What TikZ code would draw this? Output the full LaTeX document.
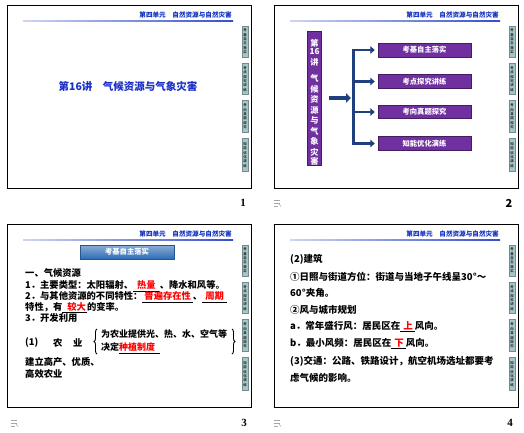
\documentclass[tikz,border=0pt]{standalone}
\usepackage{fontspec}
\usetikzlibrary{arrows.meta,decorations.pathreplacing,calc}
\setmainfont{Noto Sans CJK SC}
\newfontfamily\numfont{Liberation Serif}
\newcommand{\fsz}[1]{\fontsize{#1}{#1}\selectfont}
\newcommand{\blank}[3]{\underline{\hspace{#1}\textcolor{red}{#2}\hspace{#3}}}
\definecolor{hdrblue}{HTML}{1030C0}
\definecolor{tabc}{HTML}{A4C6C8}
\definecolor{purp}{HTML}{7030A0}
\definecolor{navy}{HTML}{1F3F7F}
\definecolor{boxblue}{HTML}{2D6CB5}
\definecolor{titleblue}{HTML}{1A2FC8}
\tikzset{
  frame/.style={draw=black, line width=0.9pt},
  hdr/.style={text=hdrblue, font=\fsz{6.6}\bfseries, inner sep=0},
  tabbox/.style={fill=tabc, draw=tabc!70!black, line width=0.2pt, minimum width=6.5, inner sep=0,
     align=center, font=\fontsize{3.4}{4.4}\selectfont\bfseries, text=black!80},
  purpbox/.style={fill=purp, draw=purp!60!black, line width=0.4pt, inner sep=0, text=white},
  body/.style={anchor=west, inner sep=0, font=\fsz{9.3}\bfseries},
  bodyb/.style={anchor=west, inner sep=0, font=\fsz{9.5}\bfseries},
  pagenum/.style={font=\numfont\fsz{11}\bfseries, inner sep=0},
  icon/.style={draw=black!35, line width=0.5pt},
  brc/.style={decorate, decoration={brace, amplitude=3pt}, line width=0.9pt},
}
\newcommand{\chrome}[2]{%
  \begin{scope}[shift={(#1,#2)}]
    \draw[frame] (7,5) rectangle (251,188);
    \shade[left color=hdrblue!20, right color=hdrblue!85] (23,20.2) rectangle (233,21.8);
    \node[hdr, anchor=east] at (232,14.5) {第四单元　自然资源与自然灾害};
    \node[tabbox, minimum height=31] at (245,41.5) {考\\基\\自\\主\\落\\实};
    \node[tabbox, minimum height=31] at (245,79) {考\\点\\探\\究\\讲\\练};
    \node[tabbox, minimum height=32] at (245,116.5) {考\\向\\真\\题\\探\\究};
    \node[tabbox, minimum height=33] at (245,155) {知\\能\\优\\化\\演\\练};
  \end{scope}}
\newcommand{\noteicon}[2]{%
  \begin{scope}[shift={(#1,#2)}]
    \draw[icon] (-3,-3) -- (3,-3) (-3,0) -- (3,0) (-3,3) -- (1,3);
    \draw[icon] (2,1) -- (4,3.5);
  \end{scope}}
\begin{document}
\begin{tikzpicture}[x=1pt,y=-1pt]
\useasboundingbox (0,0) rectangle (524,433);
\fill[white] (0,0) rectangle (524,433);

% ---------- slide chrome ----------
\chrome{0}{0}
\chrome{267}{0}
\chrome{0}{219}
\chrome{267}{219}

% ---------- slide 1 ----------
\node[font=\fsz{10.5}\bfseries, text=titleblue, inner sep=0] (title) at (128,86) {第16讲　气候资源与气象灾害};
\node[pagenum] (p1) at (243,203) {1};

% ---------- slide 2 ----------
\node[purpbox, minimum width=14, minimum height=134] (lb) at (314.5,98) {};
\foreach \c/\yy in {第/43, 16/51.5, 讲/62, 气/78, 候/89, 资/99.5, 源/110, 与/120.5, 气/131, 象/141.5, 灾/152, 害/161.5}{
  \node[text=white, font=\fsz{8.2}\bfseries, inner sep=0] at (314.5,\yy) {\c};
}
\node[purpbox, minimum width=93, minimum height=14, font=\fsz{7.3}\bfseries] (b1) at (424.5,50) {考基自主落实};
\node[purpbox, minimum width=93, minimum height=14, font=\fsz{7.3}\bfseries] (b2) at (424.5,81.5) {考点探究讲练};
\node[purpbox, minimum width=93, minimum height=13, font=\fsz{7.3}\bfseries] (b3) at (424.5,112) {考向真题探究};
\node[purpbox, minimum width=93, minimum height=14, font=\fsz{7.3}\bfseries] (b4) at (424.5,143.5) {知能优化演练};
\coordinate (tipx) at (351,0);
\coordinate (barx) at (353.5,0);
\draw[navy, line width=3.6pt, -{Triangle[length=5pt,width=9.5pt]}] ([xshift=7pt]lb.east) -- (lb.east -| tipx);
\draw[navy, line width=2.4pt] ([yshift=1pt]b1.west -| barx) -- ([yshift=-1pt]b4.west -| barx);
\foreach \i in {1,...,4}{
  \draw[navy, line width=2.6pt, -{Triangle[length=4.5pt,width=7.5pt]}] (b\i.west -| barx) -- ([xshift=-3pt]b\i.west);
}
\node[pagenum, font=\fsz{11}\bfseries] (p2) at (509,203) {2};
\noteicon{277}{203}

% ---------- slide 3 ----------
\node[inner sep=0, minimum width=94, minimum height=14, top color=boxblue!55!white, bottom color=boxblue, draw=boxblue!80!black, line width=0.3pt, text=white, font=\fsz{7.3}\bfseries] (kj) at (127,252) {考基自主落实};
\node[body] (l1) at (25,273) {一、气候资源};
\node[body] (l2) at (25,286) {1．主要类型：太阳辐射、\blank{4pt}{热量}{4pt}、降水和风等。};
\node[body] (l3) at (25,297) {2．与其他资源的不同特性：\blank{2pt}{普遍存在性}{2pt}、\blank{3pt}{周期}{3pt}};
\node[body] (l4) at (25,307.5) {特性，有\blank{5pt}{较大}{1pt}的变率。};
\node[body] (l5) at (25,318) {3．开发利用};
\node[body] (n1) at (25,343) {(1)};
\node[body] (n2) at (53,343) {农};
\node[body] (n3) at (73,343) {业};
\coordinate (brtop) at (97,329);
\coordinate (brbot) at (97,354);
\draw[brc] (brbot) -- (brtop);
\node[body, font=\fsz{9}\bfseries] (f1) at (101,334.5) {为农业提供光、热、水、空气等};
\node[body, font=\fsz{9}\bfseries] (f2) at (101,348.5) {决定\blank{0pt}{种植制度}{5pt}};
\coordinate (brtop2) at (232,329);
\coordinate (brbot2) at (232,354);
\draw[brc] (brtop2) -- (brbot2);
\node[body] (l6) at (25,362) {建立高产、优质、};
\node[body] (l7) at (25,373.5) {高效农业};
\node[pagenum] (p3) at (244,423) {3};
\noteicon{14}{423}

% ---------- slide 4 ----------
\node[bodyb] (m1) at (290,259) {(2)建筑};
\node[bodyb] (m2) at (290,277) {①日照与街道方位：街道与当地子午线呈30°～};
\node[bodyb] (m3) at (290,292.5) {60°夹角。};
\node[bodyb] (m4) at (290,310) {②风与城市规划};
\node[bodyb] (m5) at (290,326.5) {a．常年盛行风：居民区在\blank{3pt}{上}{2pt}风向。};
\node[bodyb] (m6) at (290,343.5) {b．最小风频：居民区在\blank{3pt}{下}{2pt}风向。};
\node[bodyb] (m7) at (290,361) {(3)交通：公路、铁路设计，航空机场选址都要考};
\node[bodyb] (m8) at (290,378) {虑气候的影响。};
\node[pagenum] (p4) at (510,423) {4};
\noteicon{277}{423}
\end{tikzpicture}
\end{document}
